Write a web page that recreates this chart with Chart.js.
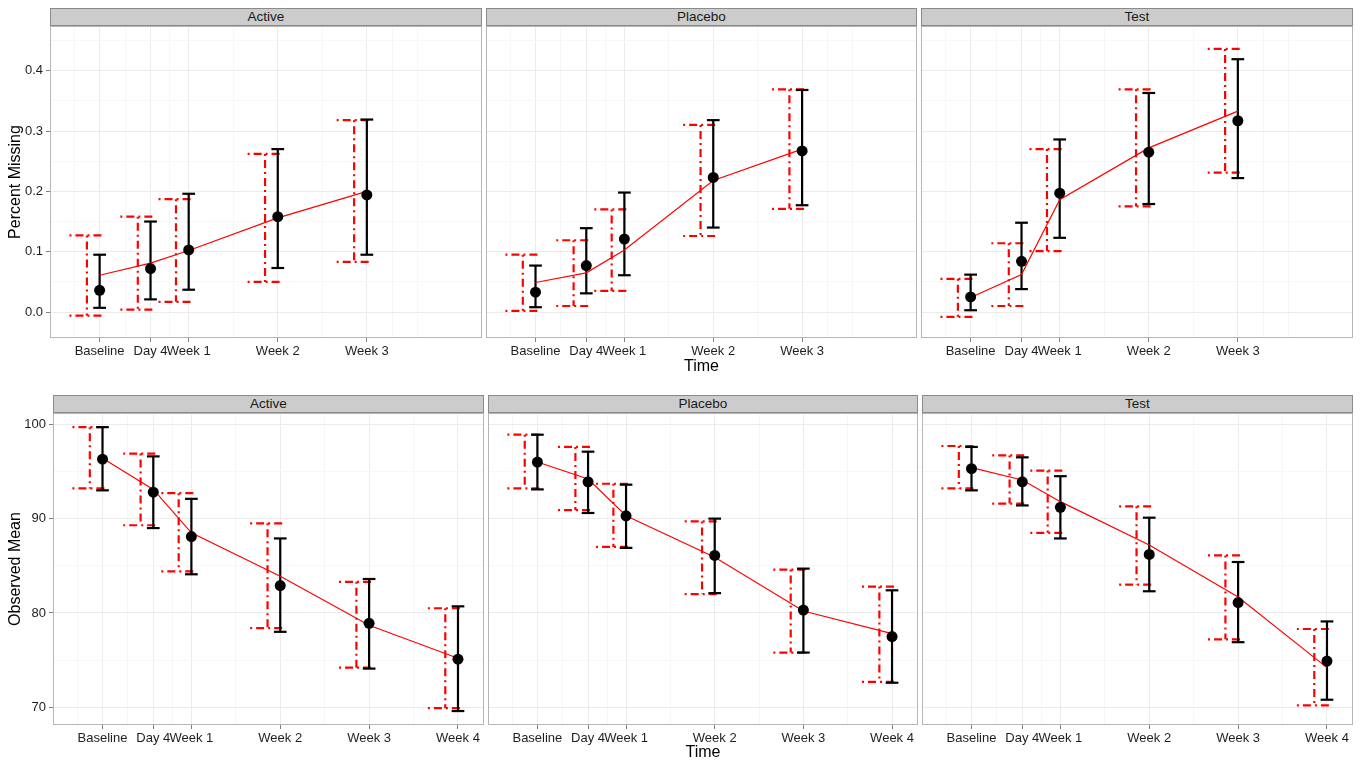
<!DOCTYPE html>
<html>
<head>
<meta charset="utf-8">
<script src="https://cdn.jsdelivr.net/npm/chart.js@4.4.1/dist/chart.umd.min.js"></script>
<style>
  html, body { margin: 0; padding: 0; background: #fff; overflow: hidden; }
  #page { position: relative; width: 1360px; height: 762px; }
  canvas { position: absolute; }
  .strip {
    position: absolute; box-sizing: border-box; height: 18px; line-height: 16px;
    background: #cccccc; border: 1px solid #8a8a8a; color: #1a1a1a;
    font: 13.5px "Liberation Sans", Arial, sans-serif; text-align: center;
  }
</style>
</head>
<body>
<div id="page"></div>
<script>
const FONT = '"Liberation Sans", Arial, sans-serif';

const timeDays = [0, 4, 7, 14, 21, 28];
const timeLabels = ["Baseline", "Day 4", "Week 1", "Week 2", "Week 3", "Week 4"];
const groups = ["Active", "Placebo", "Test"];

// top row - percent missing (baseline .. week 3)
const missActiveObs   = [0.036, 0.072, 0.103, 0.158, 0.194];
const missActiveObsLo = [0.007, 0.021, 0.037, 0.073, 0.095];
const missActiveObsHi = [0.095, 0.150, 0.196, 0.270, 0.319];
const missActiveFit   = [0.061, 0.081, 0.102, 0.156, 0.200];
const missActiveFitLo = [-0.006, 0.004, 0.017, 0.050, 0.083];
const missActiveFitHi = [0.127, 0.158, 0.187, 0.262, 0.318];

const missPlaceboObs   = [0.033, 0.077, 0.121, 0.223, 0.267];
const missPlaceboObsLo = [0.008, 0.031, 0.061, 0.140, 0.177];
const missPlaceboObsHi = [0.077, 0.139, 0.198, 0.318, 0.368];
const missPlaceboFit   = [0.049, 0.065, 0.103, 0.218, 0.270];
const missPlaceboFitLo = [0.002, 0.010, 0.035, 0.126, 0.171];
const missPlaceboFitHi = [0.095, 0.119, 0.170, 0.310, 0.369];

const missTestObs   = [0.025, 0.084, 0.197, 0.265, 0.317];
const missTestObsLo = [0.003, 0.038, 0.123, 0.179, 0.222];
const missTestObsHi = [0.062, 0.148, 0.286, 0.363, 0.419];
const missTestFit   = [0.024, 0.062, 0.186, 0.272, 0.333];
const missTestFitLo = [-0.008, 0.010, 0.101, 0.175, 0.231];
const missTestFitHi = [0.055, 0.114, 0.270, 0.369, 0.436];

// bottom row - observed mean (baseline .. week 4)
const meanActiveObs   = [96.3, 92.8, 88.1, 82.9, 78.9, 75.1];
const meanActiveObsLo = [93.0, 89.0, 84.1, 78.0, 74.1, 69.6];
const meanActiveObsHi = [99.7, 96.6, 92.1, 87.9, 83.6, 80.7];
const meanActiveFit   = [96.4, 93.1, 88.5, 83.9, 78.7, 75.2];
const meanActiveFitLo = [93.2, 89.3, 84.4, 78.4, 74.2, 69.9];
const meanActiveFitHi = [99.7, 96.9, 92.7, 89.5, 83.3, 80.5];

const meanPlaceboObs   = [96.0, 93.9, 90.3, 86.1, 80.3, 77.5];
const meanPlaceboObsLo = [93.1, 90.6, 86.9, 82.1, 75.8, 72.6];
const meanPlaceboObsHi = [98.9, 97.1, 93.6, 90.0, 84.7, 82.4];
const meanPlaceboFit   = [96.0, 94.2, 90.3, 85.9, 80.2, 77.8];
const meanPlaceboFitLo = [93.2, 90.9, 87.0, 82.0, 75.8, 72.7];
const meanPlaceboFitHi = [98.9, 97.6, 93.7, 89.7, 84.6, 82.8];

const meanTestObs   = [95.3, 93.9, 91.2, 86.2, 81.1, 74.9];
const meanTestObsLo = [93.0, 91.4, 87.9, 82.3, 76.9, 70.8];
const meanTestObsHi = [97.6, 96.5, 94.5, 90.1, 85.4, 79.1];
const meanTestFit   = [95.4, 94.1, 91.8, 87.2, 81.7, 74.2];
const meanTestFitLo = [93.2, 91.6, 88.5, 83.0, 77.2, 70.2];
const meanTestFitHi = [97.7, 96.7, 95.1, 91.3, 86.1, 78.3];

// tick / grid values
const missTicks = [0, 0.1, 0.2, 0.3, 0.4];
const missMinor = [0.05, 0.15, 0.25, 0.35, 0.45];
const meanTicks = [70, 80, 90, 100];
const meanMinor = [75, 85, 95];
const missDayMinor = [-2, 2, 5.5, 10.5, 17.5, 23, 25];
const meanDayMinor = [-2, 2, 5.5, 10.5, 17.5, 24.5];

// error bars + panel border, drawn under the line and points
const errorBarPlugin = {
  id: "errorBars",
  beforeDatasetsDraw(chart) {
    const { ctx, chartArea: a, scales: { x, y } } = chart;
    ctx.save();
    ctx.strokeStyle = "#b5b5b5";
    ctx.lineWidth = 1;
    ctx.strokeRect(Math.round(a.left) + 0.5, Math.round(a.top) + 0.5, Math.round(a.width) - 1, Math.round(a.height) - 1);
    chart.data.datasets.forEach(function (ds) {
      if (!ds.errLo) return;
      ctx.strokeStyle = ds.errColor;
      ctx.lineWidth = 2.2;
      ctx.setLineDash(ds.errDash);
      ds.data.forEach(function (p, i) {
        const cx = x.getPixelForValue(p.x + ds.errShift);
        const x0 = x.getPixelForValue(p.x + ds.errShift - ds.capHalf);
        const x1 = x.getPixelForValue(p.x + ds.errShift + ds.capHalf);
        const yHi = y.getPixelForValue(ds.errHi[i]);
        const yLo = y.getPixelForValue(ds.errLo[i]);
        [[x0, yHi, x1, yHi], [cx, yHi, cx, yLo], [x0, yLo, x1, yLo]].forEach(function (s) {
          ctx.beginPath();
          ctx.moveTo(s[0], s[1]);
          ctx.lineTo(s[2], s[3]);
          ctx.stroke();
        });
      });
    });
    ctx.restore();
  },
};

function noPad(ax) {
  ax.paddingTop = 0;
  ax.paddingBottom = 0;
  ax.paddingLeft = 0;
  ax.paddingRight = 0;
}

function makePanel(p) {
  const cv = document.createElement("canvas");
  const left = p.col === 0 ? 0 : p.panelLeft - 4;
  const yW = p.panelLeft - left;
  const w = p.panelRight - left + 2;
  const h = 1 + (p.panelBottom - p.panelTop) + p.axisH;
  cv.width = w;
  cv.height = h;
  cv.style.left = left + "px";
  cv.style.top = (p.panelTop - 1) + "px";
  document.getElementById("page").appendChild(cv);

  const strip = document.createElement("div");
  strip.className = "strip";
  strip.textContent = groups[p.col];
  strip.style.left = p.panelLeft + "px";
  strip.style.width = (p.panelRight - p.panelLeft) + "px";
  strip.style.top = (p.panelTop - 18) + "px";
  document.getElementById("page").appendChild(strip);

  const days = timeDays.slice(0, p.obs.length);
  const xTicks = days.concat(p.xMinor).sort((a, b) => a - b);
  const yTicks = p.yMajor.concat(p.yMinor).sort((a, b) => a - b);

  return new Chart(cv, {
    data: {
      datasets: [
        {
          type: "scatter",
          label: "Model",
          data: days.map((d, i) => ({ x: d, y: p.fit[i] })),
          showLine: true,
          borderColor: "#ff0000",
          borderWidth: 1.2,
          pointRadius: 0,
          errLo: p.fitLo,
          errHi: p.fitHi,
          errShift: -1,
          capHalf: 1.37,
          errColor: "#ff0000",
          errDash: [2, 4, 8, 4],
          order: 2,
        },
        {
          type: "scatter",
          label: "Observed",
          data: days.map((d, i) => ({ x: d, y: p.obs[i] })),
          pointRadius: 5.5,
          backgroundColor: "#000000",
          borderColor: "#000000",
          borderWidth: 0,
          errLo: p.obsLo,
          errHi: p.obsHi,
          errShift: 0,
          capHalf: 0.5,
          errColor: "#000000",
          errDash: [],
          order: 1,
        },
      ],
    },
    options: {
      responsive: false,
      animation: false,
      layout: { autoPadding: false, padding: { left: 0, right: 2, top: 1, bottom: 0 } },
      plugins: { legend: { display: false }, tooltip: { enabled: false } },
      scales: {
        x: {
          type: "linear",
          min: -3.9,
          max: 30.05,
          afterBuildTicks: (ax) => { ax.ticks = xTicks.map((v) => ({ value: v })); },
          afterFit: (ax) => { ax.height = p.axisH; noPad(ax); },
          border: { display: false },
          grid: {
            color: (c) => (days.indexOf(c.tick.value) >= 0 ? "#ebebeb" : "#f7f7f7"),
            tickColor: (c) => (days.indexOf(c.tick.value) >= 0 ? "#7f7f7f" : "rgba(0,0,0,0)"),
            tickLength: 4,
            lineWidth: 1,
          },
          ticks: {
            autoSkip: false,
            maxRotation: 0,
            minRotation: 0,
            padding: 2,
            color: "#1e1e1e",
            font: { family: FONT, size: 13 },
            callback: (v) => { const i = days.indexOf(v); return i >= 0 ? timeLabels[i] : ""; },
          },
          title: {
            display: p.col === 1,
            text: "Time",
            color: "#000000",
            font: { family: FONT, size: 16 },
            padding: { top: 0, bottom: p.titlePad },
          },
        },
        y: {
          type: "linear",
          position: "left",
          min: p.yMin,
          max: p.yMax,
          afterBuildTicks: (ax) => { ax.ticks = yTicks.map((v) => ({ value: v })); },
          afterFit: (ax) => { ax.width = yW; noPad(ax); },
          border: { display: false },
          grid: {
            color: (c) => (p.yMajor.indexOf(c.tick.value) >= 0 ? "#ebebeb" : "#f7f7f7"),
            tickColor: (c) => (p.yMajor.indexOf(c.tick.value) >= 0 ? "#7f7f7f" : "rgba(0,0,0,0)"),
            drawTicks: p.col === 0,
            tickLength: 4,
            lineWidth: 1,
          },
          ticks: {
            display: p.col === 0,
            autoSkip: false,
            padding: 3,
            color: "#1e1e1e",
            font: { family: FONT, size: 13 },
            callback: (v) => (p.yMajor.indexOf(v) >= 0 ? p.fmt(v) : ""),
          },
          title: {
            display: p.col === 0,
            text: p.yTitle,
            color: "#000000",
            font: { family: FONT, size: 16 },
            padding: { top: 6, bottom: 0 },
          },
        },
      },
    },
    plugins: [errorBarPlugin],
  });
}

const topCols = [[50, 482], [486, 917], [921, 1353]];
const botCols = [[53, 484], [488, 918], [922, 1353]];

const missSets = [
  [missActiveObs, missActiveObsLo, missActiveObsHi, missActiveFit, missActiveFitLo, missActiveFitHi],
  [missPlaceboObs, missPlaceboObsLo, missPlaceboObsHi, missPlaceboFit, missPlaceboFitLo, missPlaceboFitHi],
  [missTestObs, missTestObsLo, missTestObsHi, missTestFit, missTestFitLo, missTestFitHi],
];
const meanSets = [
  [meanActiveObs, meanActiveObsLo, meanActiveObsHi, meanActiveFit, meanActiveFitLo, meanActiveFitHi],
  [meanPlaceboObs, meanPlaceboObsLo, meanPlaceboObsHi, meanPlaceboFit, meanPlaceboFitLo, meanPlaceboFitHi],
  [meanTestObs, meanTestObsLo, meanTestObsHi, meanTestFit, meanTestFitLo, meanTestFitHi],
];

missSets.forEach(function (s, col) {
  makePanel({
    col: col, panelLeft: topCols[col][0], panelRight: topCols[col][1],
    panelTop: 26, panelBottom: 338, axisH: 40, titlePad: 2,
    obs: s[0], obsLo: s[1], obsHi: s[2], fit: s[3], fitLo: s[4], fitHi: s[5],
    yMin: -0.043, yMax: 0.474, yMajor: missTicks, yMinor: missMinor, xMinor: missDayMinor,
    yTitle: "Percent Missing", fmt: (v) => v.toFixed(1),
  });
});

meanSets.forEach(function (s, col) {
  makePanel({
    col: col, panelLeft: botCols[col][0], panelRight: botCols[col][1],
    panelTop: 413, panelBottom: 725, axisH: 37, titlePad: 0,
    obs: s[0], obsLo: s[1], obsHi: s[2], fit: s[3], fitLo: s[4], fitHi: s[5],
    yMin: 68.12, yMax: 101.2, yMajor: meanTicks, yMinor: meanMinor, xMinor: meanDayMinor,
    yTitle: "Observed Mean", fmt: (v) => String(v),
  });
});
</script>
</body>
</html>
